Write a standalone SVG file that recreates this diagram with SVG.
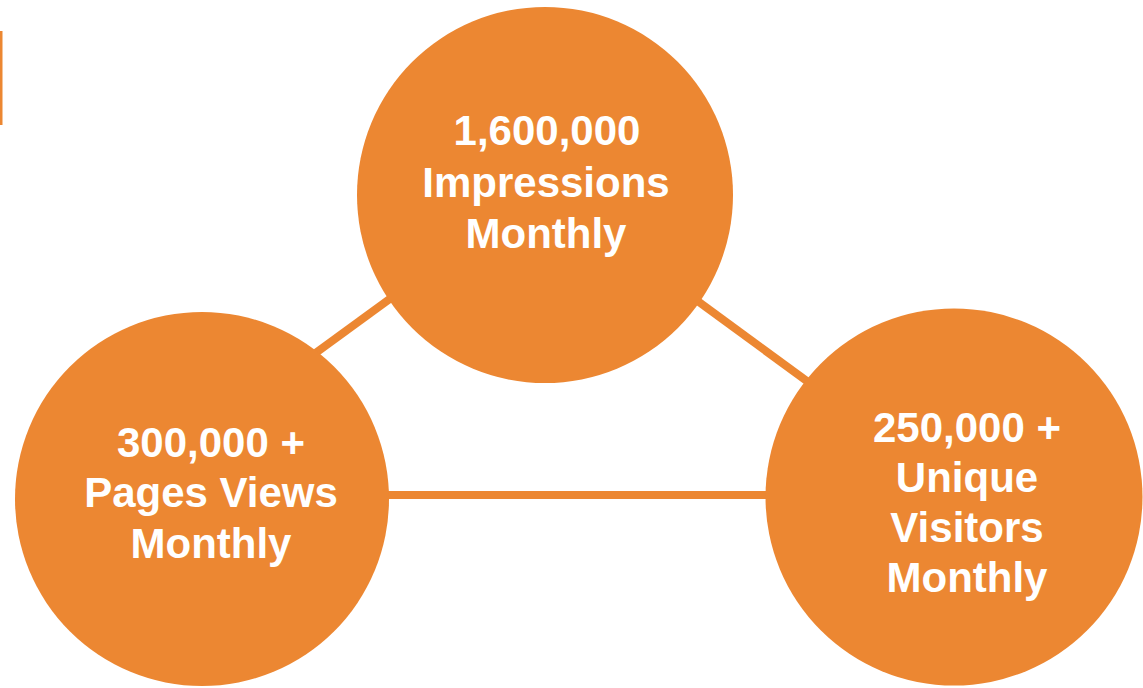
<svg xmlns="http://www.w3.org/2000/svg" width="1143" height="688" viewBox="0 0 1143 688">
  <style>
    .node { fill: #EC8732; }
    .link { stroke: #EC8732; stroke-width: 8; fill: none; }
    .label { fill: #FFFFFF; font-family: "Liberation Sans", Arial, Helvetica, sans-serif; font-weight: bold; font-size: 42px; text-anchor: middle; }
  </style>
  <rect width="1143" height="688" fill="#FFFFFF"/>
  <!-- accent bar on the left edge -->
  <rect x="0" y="31" width="2.5" height="94" fill="#EC8732"/>
  <g id="connectors">
    <line class="link" x1="306" y1="360" x2="402" y2="290"/>
    <line class="link" x1="688" y1="294" x2="815" y2="387"/>
    <line class="link" x1="380" y1="495" x2="775" y2="495"/>
  </g>
  <g id="impressions">
    <circle class="node" cx="545" cy="195" r="188"/>
    <text class="label" x="547" y="145">1,600,000</text>
    <text class="label" x="546" y="197">Impressions</text>
    <text class="label" x="546" y="248">Monthly</text>
  </g>
  <g id="page-views">
    <circle class="node" cx="202" cy="499" r="187"/>
    <text class="label" x="211" y="457">300,000 +</text>
    <text class="label" x="211" y="507">Pages Views</text>
    <text class="label" x="211" y="558">Monthly</text>
  </g>
  <g id="unique-visitors">
    <circle class="node" cx="954" cy="497" r="188.5"/>
    <text class="label" x="967" y="442">250,000 +</text>
    <text class="label" x="967" y="492">Unique</text>
    <text class="label" x="967" y="542">Visitors</text>
    <text class="label" x="967" y="592">Monthly</text>
  </g>
</svg>
